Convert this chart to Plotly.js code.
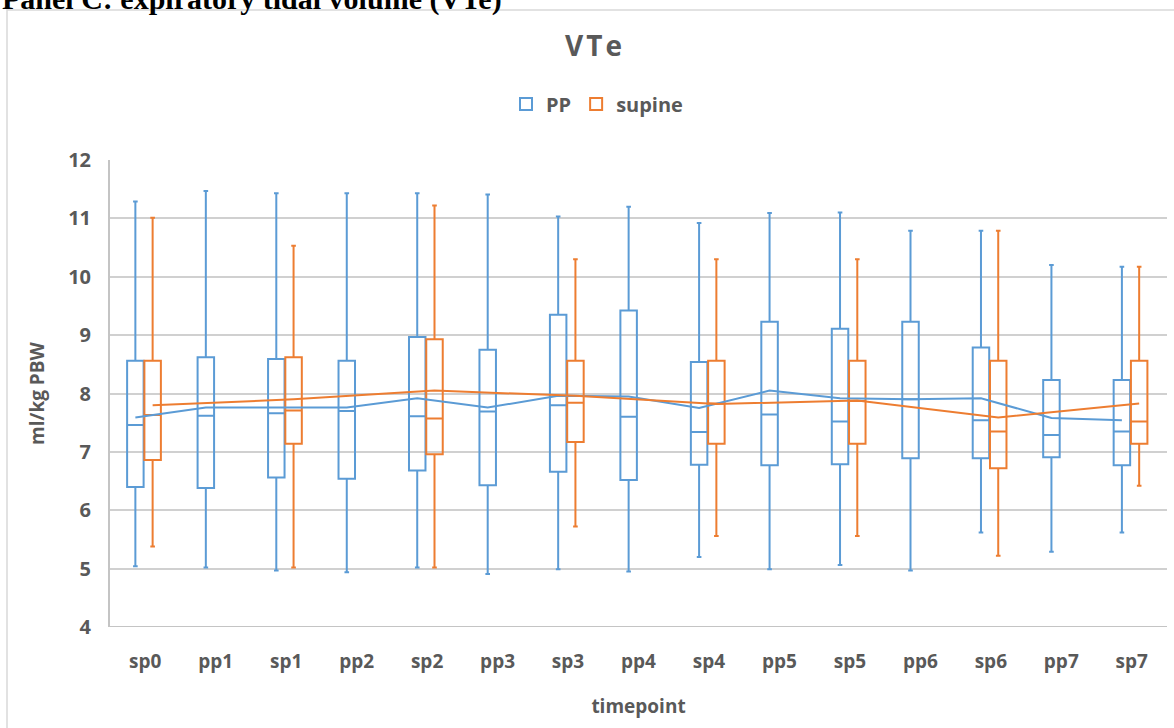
<!DOCTYPE html>
<html>
<head>
<meta charset="utf-8">
<script src="https://cdn.plot.ly/plotly-3.0.1.min.js"></script>
<style>
  html, body { margin: 0; padding: 0; background: #ffffff; }
  #chart { width: 1174px; height: 728px; }
</style>
</head>
<body>
<div id="chart"></div>
<script>
// Timepoints on the x axis
const categories = ['sp0','pp1','sp1','pp2','sp2','pp3','sp3','pp4','sp4','pp5','sp5','pp6','sp6','pp7','sp7'];

// PP series: one box per timepoint
const ppUpper  = [11.29, 11.47, 11.43, 11.43, 11.43, 11.41, 11.03, 11.20, 10.92, 11.09, 11.10, 10.79, 10.79, 10.20, 10.17];
const ppQ3     = [8.56, 8.62, 8.59, 8.56, 8.97, 8.75, 9.35, 9.42, 8.54, 9.23, 9.11, 9.23, 8.79, 8.23, 8.23];
const ppMedian = [7.46, 7.62, 7.66, 7.70, 7.61, 7.69, 7.80, 7.60, 7.34, 7.64, 7.52, 7.90, 7.54, 7.29, 7.35];
const ppQ1     = [6.40, 6.38, 6.56, 6.54, 6.68, 6.43, 6.66, 6.52, 6.78, 6.77, 6.79, 6.89, 6.89, 6.91, 6.77];
const ppLower  = [5.04, 5.02, 4.97, 4.94, 5.02, 4.91, 4.99, 4.95, 5.20, 4.99, 5.06, 4.97, 5.62, 5.29, 5.62];
const ppMean   = [7.59, 7.76, 7.76, 7.76, 7.92, 7.76, 7.96, 7.95, 7.75, 8.05, 7.92, 7.90, 7.92, 7.58, 7.54];

// supine series: only measured at the sp timepoints
const supineCats   = ['sp0','sp1','sp2','sp3','sp4','sp5','sp6','sp7'];
const supineUpper  = [11.01, 10.53, 11.22, 10.30, 10.30, 10.30, 10.79, 10.17];
const supineQ3     = [8.56, 8.62, 8.93, 8.56, 8.56, 8.56, 8.56, 8.56];
const supineMedian = [7.63, 7.71, 7.57, 7.84, 7.83, 7.87, 7.35, 7.52];
const supineQ1     = [6.86, 7.14, 6.96, 7.17, 7.14, 7.14, 6.72, 7.14];
const supineLower  = [5.38, 5.02, 5.02, 5.72, 5.56, 5.56, 5.22, 6.42];
const supineMean   = [7.80, 7.90, 8.05, 7.96, 7.82, 7.88, 7.59, 7.83];

const BLUE = '#5B9BD5';
const ORANGE = '#ED7D31';
const GREY_TEXT = '#595959';
const FONT = '"Open Sans", "Liberation Sans", sans-serif';

// Each series sits in its own slot inside a timepoint
const BOX_W = 0.234;
const PP_SHIFT = -0.14;
const SUP_SHIFT = 0.105;

const catIndex = c => categories.indexOf(c);
const ppX = categories.map((c, i) => i + PP_SHIFT);
const supX = supineCats.map(c => catIndex(c) + SUP_SHIFT);

const boxStyle = color => ({
  type: 'box',
  width: BOX_W,
  whiskerwidth: 0.28,
  boxpoints: false,
  fillcolor: 'rgba(255,255,255,0)',
  line: { color: color, width: 2 },
  hoverinfo: 'skip'
});

const traces = [
  Object.assign(boxStyle(BLUE), {
    name: 'PP', x: ppX,
    q1: ppQ1, median: ppMedian, q3: ppQ3,
    lowerfence: ppLower, upperfence: ppUpper
  }),
  Object.assign(boxStyle(ORANGE), {
    name: 'supine', x: supX,
    q1: supineQ1, median: supineMedian, q3: supineQ3,
    lowerfence: supineLower, upperfence: supineUpper
  }),
  // mean lines connecting the box means of each series
  {
    type: 'scatter', mode: 'lines', x: ppX, y: ppMean,
    line: { color: BLUE, width: 2 }, showlegend: false, hoverinfo: 'skip'
  },
  {
    type: 'scatter', mode: 'lines', x: supX, y: supineMean,
    line: { color: ORANGE, width: 2 }, showlegend: false, hoverinfo: 'skip'
  }
];

const W = 1174, H = 728;
const M = { l: 110, r: 7, t: 160, b: 101 };
const plotW = W - M.l - M.r, plotH = H - M.t - M.b;
const px2x = px => (px - M.l) / plotW;
const py2y = py => (H - M.b - py) / plotH;

const layout = {
  width: W, height: H,
  margin: M,
  paper_bgcolor: '#ffffff',
  plot_bgcolor: '#ffffff',
  font: { family: FONT, color: GREY_TEXT },
  showlegend: true,
  title: {
    text: '<span style="letter-spacing:3px">VTe</span>',
    font: { family: FONT, size: 28, color: GREY_TEXT, weight: 'bold' },
    xref: 'container', x: 595 / W, xanchor: 'center',
    yref: 'container', y: 1 - 46 / H, yanchor: 'middle'
  },
  legend: {
    orientation: 'h',
    x: px2x(597), xanchor: 'center',
    y: py2y(104), yanchor: 'middle',
    font: { family: FONT, size: 20, color: GREY_TEXT, weight: 'bold' },
    itemwidth: 30,
    bgcolor: 'rgba(0,0,0,0)'
  },
  xaxis: {
    range: [-0.5, categories.length - 0.5],
    tickmode: 'array',
    tickvals: categories.map((c, i) => i),
    ticktext: categories,
    showgrid: false,
    zeroline: false,
    showline: false,
    ticks: '',
    ticklabelstandoff: 21,
    tickfont: { family: FONT, size: 19, color: GREY_TEXT, weight: 'bold' },
    title: {
      text: 'timepoint',
      font: { family: FONT, size: 19, color: GREY_TEXT, weight: 'bold' },
      standoff: 26
    },
    fixedrange: true
  },
  yaxis: {
    range: [4, 12],
    dtick: 1,
    tick0: 4,
    showgrid: true,
    gridcolor: '#D0D0D0',
    gridwidth: 2,
    zeroline: false,
    showline: true,
    linecolor: '#C4C4C4',
    linewidth: 2,
    ticks: '',
    ticklabelstandoff: 13,
    tickfont: { family: FONT, size: 20, color: GREY_TEXT, weight: 'bold' },
    title: {
      text: 'ml/kg PBW',
      font: { family: FONT, size: 19, color: GREY_TEXT, weight: 'bold' },
      standoff: 18
    },
    fixedrange: true
  },
  shapes: [
    // outer chart frame
    {
      type: 'rect', xref: 'paper', yref: 'paper', layer: 'below',
      x0: px2x(7), x1: px2x(1180), y0: py2y(740), y1: py2y(10),
      line: { color: '#D9D9D9', width: 1.5 }, fillcolor: 'rgba(0,0,0,0)'
    },
    // bottom axis line at y = 4
    {
      type: 'line', xref: 'paper', yref: 'y',
      x0: 0, x1: 1, y0: 4, y1: 4,
      line: { color: '#C4C4C4', width: 2 }
    }
  ],
  annotations: [
    {
      text: 'Panel C: expiratory tidal volume (VTe)',
      xref: 'paper', yref: 'paper',
      x: px2x(0), xanchor: 'left',
      y: py2y(-1), yanchor: 'middle',
      showarrow: false,
      font: { family: '"Liberation Serif", "Times New Roman", serif', size: 30, color: '#000000', weight: 'bold' }
    }
  ]
};

Plotly.newPlot('chart', traces, layout, { displayModeBar: false, staticPlot: true });
</script>
</body>
</html>
